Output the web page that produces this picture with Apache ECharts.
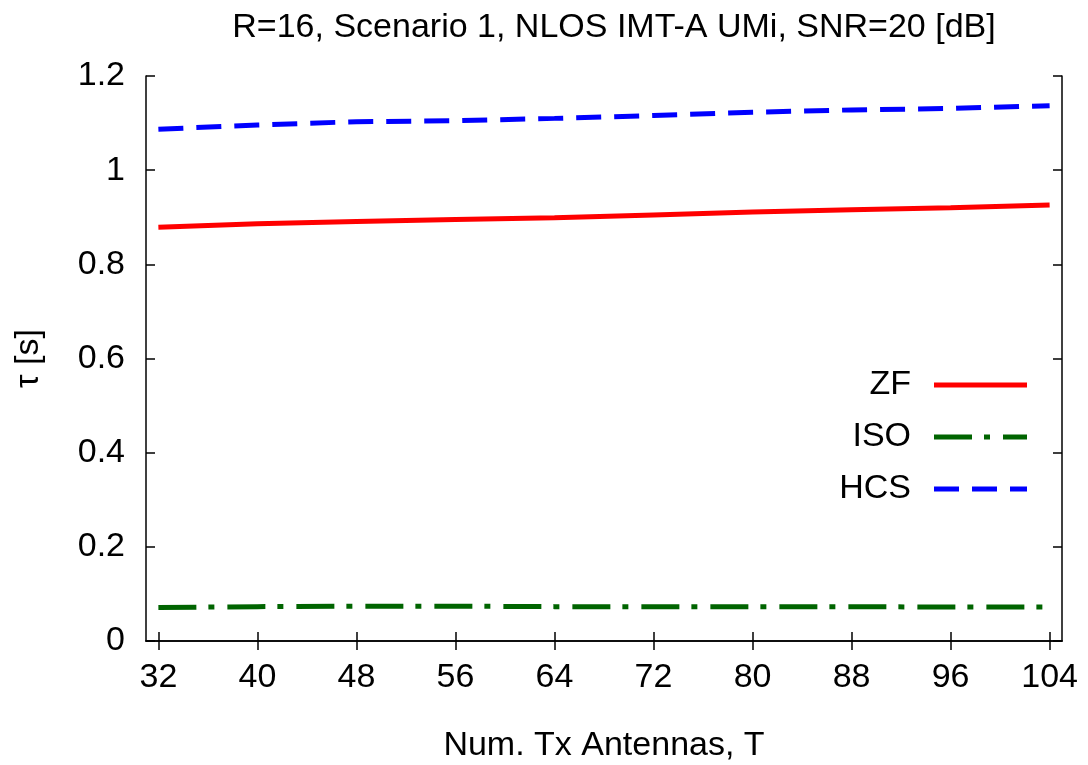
<!DOCTYPE html>
<html>
<head>
<meta charset="utf-8">
<script src="https://cdn.jsdelivr.net/npm/echarts@6/dist/echarts.min.js"></script>
<style>
  html, body { margin: 0; padding: 0; background: #fff; }
  #chart { width: 1088px; height: 765px; }
</style>
</head>
<body>
<div id="chart"></div>
<script>
// Number of transmit antennas T
const antennas = [32, 40, 48, 56, 64, 72, 80, 88, 96, 104];
// Time tau [s] per scheme
const zf  = [0.879, 0.886, 0.891, 0.895, 0.899, 0.905, 0.911, 0.916, 0.920, 0.926];
const iso = [0.071, 0.073, 0.074, 0.074, 0.073, 0.073, 0.073, 0.073, 0.072, 0.072];
const hcs = [1.087, 1.096, 1.103, 1.105, 1.110, 1.116, 1.123, 1.128, 1.131, 1.137];
const xTicks = [32, 40, 48, 56, 64, 72, 80, 88, 96, 104];

const FONT = '"Liberation Sans", Arial, Helvetica, sans-serif';
const FS = 34;
const pairs = (ys) => antennas.map((x, i) => [x, ys[i]]);

// Legend keys drawn as filled strips following each series' dash pattern
const keyZF  = 'path://M0,0H93V5H0Z';
const keyISO = 'path://M0,0H38V5H0Z M50,0H56V5H50Z M69,0H93V5H69Z';
const keyHCS = 'path://M0,0H25V5H0Z M38,0H63V5H38Z M76,0H93V5H76Z';

const chart = echarts.init(document.getElementById('chart'), null, { renderer: 'canvas' });

const frameLine = { show: true, lineStyle: { color: '#000', width: 1.5 } };
const tick = { show: true, inside: true, length: 9, lineStyle: { color: '#000', width: 1.5 } };

chart.setOption({
  animation: false,
  backgroundColor: '#fff',
  title: {
    text: 'R=16, Scenario 1, NLOS IMT-A UMi, SNR=20 [dB]',
    left: 609, textAlign: 'center', top: 6,
    textStyle: { fontFamily: FONT, fontSize: FS, fontWeight: 'normal', color: '#000' }
  },
  legend: {
    orient: 'vertical', align: 'right', right: 61, top: 368, padding: 0,
    itemWidth: 93, itemHeight: 5, itemGap: 18,
    textStyle: { fontFamily: FONT, fontSize: FS, lineHeight: 34, color: '#000', padding: [0, 18, 0, 0] },
    data: [
      { name: 'ZF', icon: keyZF },
      { name: 'ISO', icon: keyISO },
      { name: 'HCS', icon: keyHCS }
    ]
  },
  grid: { left: 146, right: 26, top: 76, bottom: 124, outerBoundsMode: 'none', containLabel: false },
  xAxis: [{
    type: 'value', min: 31, max: 105,
    name: 'Num. Tx Antennas, T', nameLocation: 'middle', nameGap: 88,
    nameTextStyle: { fontFamily: FONT, fontSize: FS, color: '#000' },
    axisLine: frameLine,
    axisTick: Object.assign({ customValues: xTicks }, tick),
    axisLabel: { customValues: xTicks, margin: 20, fontFamily: FONT, fontSize: FS, color: '#000' },
    splitLine: { show: false }
  }, {
    type: 'value', min: 31, max: 105, position: 'top',
    axisLine: frameLine,
    axisTick: Object.assign({ customValues: xTicks }, tick),
    axisLabel: { show: false },
    splitLine: { show: false }
  }],
  yAxis: [{
    type: 'value', min: 0, max: 1.2, interval: 0.2,
    name: 'τ [s]', nameLocation: 'middle', nameGap: 100, nameRotate: 90,
    nameTextStyle: { fontFamily: FONT, fontSize: FS, color: '#000' },
    axisLine: frameLine, axisTick: tick,
    axisLabel: { margin: 21, fontFamily: FONT, fontSize: FS, color: '#000' },
    splitLine: { show: false }
  }, {
    type: 'value', min: 0, max: 1.2, interval: 0.2, position: 'right',
    axisLine: frameLine, axisTick: tick,
    axisLabel: { show: false },
    splitLine: { show: false }
  }],
  series: [{
    name: 'ZF', type: 'line', data: pairs(zf), symbol: 'none',
    lineStyle: { color: '#ff0000', width: 5, type: 'solid' },
    itemStyle: { color: '#ff0000' }
  }, {
    name: 'ISO', type: 'line', data: pairs(iso), symbol: 'none',
    lineStyle: { color: '#006400', width: 5, type: [38, 12, 6, 13] },
    itemStyle: { color: '#006400' }
  }, {
    name: 'HCS', type: 'line', data: pairs(hcs), symbol: 'none',
    lineStyle: { color: '#0000ff', width: 5, type: [25, 13] },
    itemStyle: { color: '#0000ff' }
  }]
});
</script>
</body>
</html>
